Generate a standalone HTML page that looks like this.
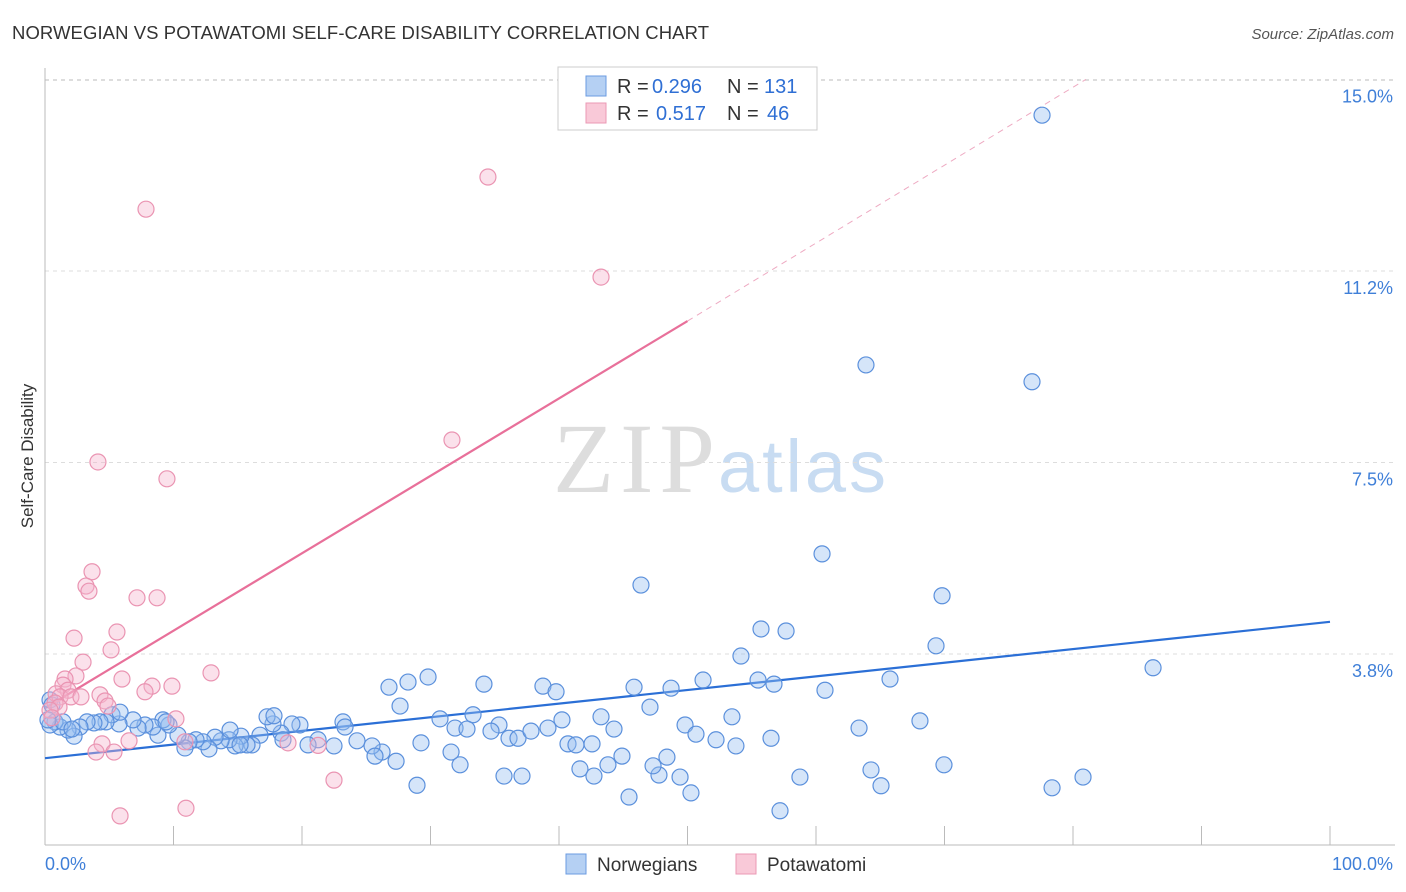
<!DOCTYPE html>
<html><head><meta charset="utf-8"><style>
body{margin:0;background:#fff;font-family:"Liberation Sans",sans-serif;}
svg{display:block}
</style></head><body>
<svg id="chart" width="1406" height="892">
<text x="12" y="39" font-size="18.5" fill="#333" textLength="697">NORWEGIAN VS POTAWATOMI SELF-CARE DISABILITY CORRELATION CHART</text>
<text x="1394" y="39" font-size="15" fill="#555" text-anchor="end" font-style="italic">Source: ZipAtlas.com</text>
<text transform="translate(33,456) rotate(-90)" font-size="17" fill="#333" text-anchor="middle">Self-Care Disability</text>
<g><text x="553" y="492" font-size="100" font-family="Liberation Serif,serif" fill="#ddd" textLength="162">ZIP</text><text x="718" y="492" font-size="74" fill="#c8dcf2" textLength="168">atlas</text></g>
<g id="grid"></g><g id="axes"></g><g id="lines"></g><g id="pts"></g>
<g>
<rect x="558" y="67" width="259" height="63" fill="#fff" stroke="#ccc"/>
<rect x="586" y="76" width="20" height="20" fill="#b5d0f3" stroke="#6b9be0"/>
<rect x="586" y="103" width="20" height="20" fill="#f9c9d8" stroke="#eb99b5"/>
<text y="93" font-size="20" fill="#333"><tspan x="617">R =</tspan><tspan x="652" fill="#2f6fd4">0.296</tspan><tspan x="727">N =</tspan><tspan x="764" fill="#2f6fd4">131</tspan></text>
<text y="120" font-size="20" fill="#333"><tspan x="617">R =</tspan><tspan x="656" fill="#2f6fd4">0.517</tspan><tspan x="727">N =</tspan><tspan x="767" fill="#2f6fd4">46</tspan></text>
</g>
<g>
<rect x="566" y="854" width="20" height="20" fill="#b5d0f3" stroke="#6b9be0"/>
<text x="597" y="871" font-size="19" fill="#333">Norwegians</text>
<rect x="736" y="854" width="20" height="20" fill="#f9c9d8" stroke="#eb99b5"/>
<text x="767" y="871" font-size="19" fill="#333">Potawatomi</text>
</g>
<text x="45" y="870" font-size="18" fill="#3f7fd8">0.0%</text>
<text x="1393" y="870" font-size="18" fill="#3f7fd8" text-anchor="end">100.0%</text>
</svg>
<script>
const yTicks=[3.75,7.5,11.25,15];
const yTickLabels=["3.8%","7.5%","11.2%","15.0%"];
const xTicks=[0,10,20,30,40,50,60,70,80,90,100];
const blueX=[77.59,63.89,76.81,60.47,46.38,69.81,55.72,57.67,69.34,54.16,86.23,55.49,56.73,65.76,60.70,45.84,48.72,51.21,38.75,39.77,34.16,29.81,28.25,26.77,27.63,47.08,43.27,53.46,68.09,63.35,49.81,44.28,35.33,33.31,30.74,31.91,32.84,34.71,36.11,36.81,37.82,39.14,40.23,40.70,41.32,42.57,44.90,48.40,50.66,52.22,53.77,56.50,69.96,78.37,80.78,64.28,65.06,58.75,57.20,50.27,49.42,47.78,47.32,45.45,43.81,42.72,41.63,37.12,35.72,32.30,31.60,29.26,28.95,27.32,26.23,25.45,25.68,24.28,23.19,22.49,23.35,21.25,20.47,19.84,19.22,18.37,17.74,17.28,18.52,17.82,16.73,16.11,15.72,15.25,14.79,14.32,13.70,13.23,12.76,12.30,11.75,11.21,10.89,10.35,9.65,9.18,8.79,8.40,7.78,7.24,6.85,5.76,5.21,4.75,4.28,3.81,3.27,2.72,2.26,1.79,1.17,0.78,0.39,0.39,0.54,1.40,2.10,0.23,14.40,5.84,9.42,15.18];
const blueY=[14.30,9.41,9.08,5.71,5.10,4.89,4.24,4.20,3.91,3.71,3.48,3.24,3.16,3.26,3.04,3.10,3.08,3.24,3.12,3.01,3.16,3.30,3.20,3.10,2.73,2.71,2.52,2.52,2.44,2.30,2.36,2.28,2.36,2.56,2.48,2.30,2.28,2.24,2.10,2.10,2.24,2.30,2.46,1.99,1.97,1.99,1.75,1.73,2.18,2.07,1.95,2.10,1.58,1.13,1.34,1.48,1.17,1.34,0.68,1.03,1.34,1.38,1.56,0.95,1.58,1.36,1.50,1.36,1.36,1.58,1.83,2.01,1.18,1.65,1.83,1.95,1.75,2.05,2.42,1.95,2.32,2.07,1.97,2.36,2.38,2.20,2.38,2.52,2.07,2.54,2.16,1.97,1.97,2.14,1.95,2.07,2.05,2.12,1.89,2.03,2.07,2.03,1.91,2.16,2.36,2.46,2.16,2.32,2.36,2.30,2.46,2.38,2.56,2.42,2.42,2.40,2.42,2.32,2.14,2.26,2.32,2.42,2.36,2.85,2.75,2.42,2.28,2.46,2.26,2.61,2.42,1.97];
const pinkX=[7.86,34.47,43.27,31.67,4.12,9.49,3.66,3.19,3.42,7.16,8.72,2.26,5.60,5.14,2.96,2.41,12.92,5.99,1.56,1.40,1.79,0.86,1.17,2.02,4.28,4.67,2.80,8.33,9.88,7.78,0.78,1.09,0.39,4.90,0.54,10.19,18.91,4.44,6.54,3.97,5.37,10.89,21.25,22.49,10.97,5.84];
const pinkY=[12.46,13.09,11.13,7.94,7.51,7.18,5.36,5.08,4.98,4.85,4.85,4.06,4.18,3.83,3.59,3.32,3.38,3.26,3.26,3.14,3.04,2.97,2.91,2.91,2.95,2.83,2.91,3.12,3.12,3.01,2.79,2.71,2.65,2.73,2.50,2.48,2.01,1.99,2.05,1.83,1.83,2.03,1.96,1.28,0.73,0.58];
const blueTrend=[1.71,4.38];
const pinkTrend=[2.69,10.27];
const pinkDashEnd=[81,15.0];
const NS="http://www.w3.org/2000/svg";
const X=v=>45+v*12.85, Y=v=>845.5-v*51.07;
function mk(t,a,p){const e=document.createElementNS(NS,t);for(const k in a)e.setAttribute(k,a[k]);document.getElementById(p).appendChild(e);return e;}
yTicks.forEach((t,i)=>{
 const g=mk('line',{x1:45,x2:1395,y1:Y(t),y2:Y(t),stroke:'#ddd','stroke-dasharray':'4,4'},'grid');
 
 
 const l=mk('text',{x:1393,y:Y(t)+23,'font-size':18,fill:'#3f7fd8','text-anchor':'end'},'grid');
 l.textContent=yTickLabels[i];
 
 
});
mk('line',{x1:45,x2:1395,y1:Y(15)+1,y2:Y(15)+1,stroke:'#ddd','stroke-dasharray':'4,4'},'grid');
const ya=mk('line',{x1:45,x2:45,y1:68,y2:845,stroke:'#bbb'},'axes');


const xa=mk('line',{x1:45,x2:1395,y1:845,y2:845,stroke:'#bbb'},'axes');


xTicks.forEach(t=>{const k=mk('line',{x1:X(t),x2:X(t),y1:826,y2:845,stroke:'#bbb'},'axes');
 
 });
const bl=mk('line',{x1:X(0),y1:Y(blueTrend[0]),x2:X(100),y2:Y(blueTrend[1]),stroke:'#2b6fd6','stroke-width':2.2},'lines');


const pl=mk('line',{x1:X(0),y1:Y(pinkTrend[0]),x2:X(50),y2:Y(pinkTrend[1]),stroke:'#e8709a','stroke-width':2.2},'lines');


const pd=mk('line',{x1:X(50),y1:Y(pinkTrend[1]),x2:X(pinkDashEnd[0]),y2:Y(pinkDashEnd[1]),stroke:'#eeaac2','stroke-width':1,'stroke-dasharray':'6,5'},'lines');


blueX.forEach((x,i)=>{const c=mk('circle',{cx:X(x),cy:Y(blueY[i]),r:8,fill:'rgba(150,190,240,0.4)',stroke:'#5b90dc','stroke-width':1.2},'pts');
 
 });
pinkX.forEach((x,i)=>{const c=mk('circle',{cx:X(x),cy:Y(pinkY[i]),r:8,fill:'rgba(246,180,204,0.4)',stroke:'#ea94b2','stroke-width':1.2},'pts');
 
 });
</script>
</body></html>
